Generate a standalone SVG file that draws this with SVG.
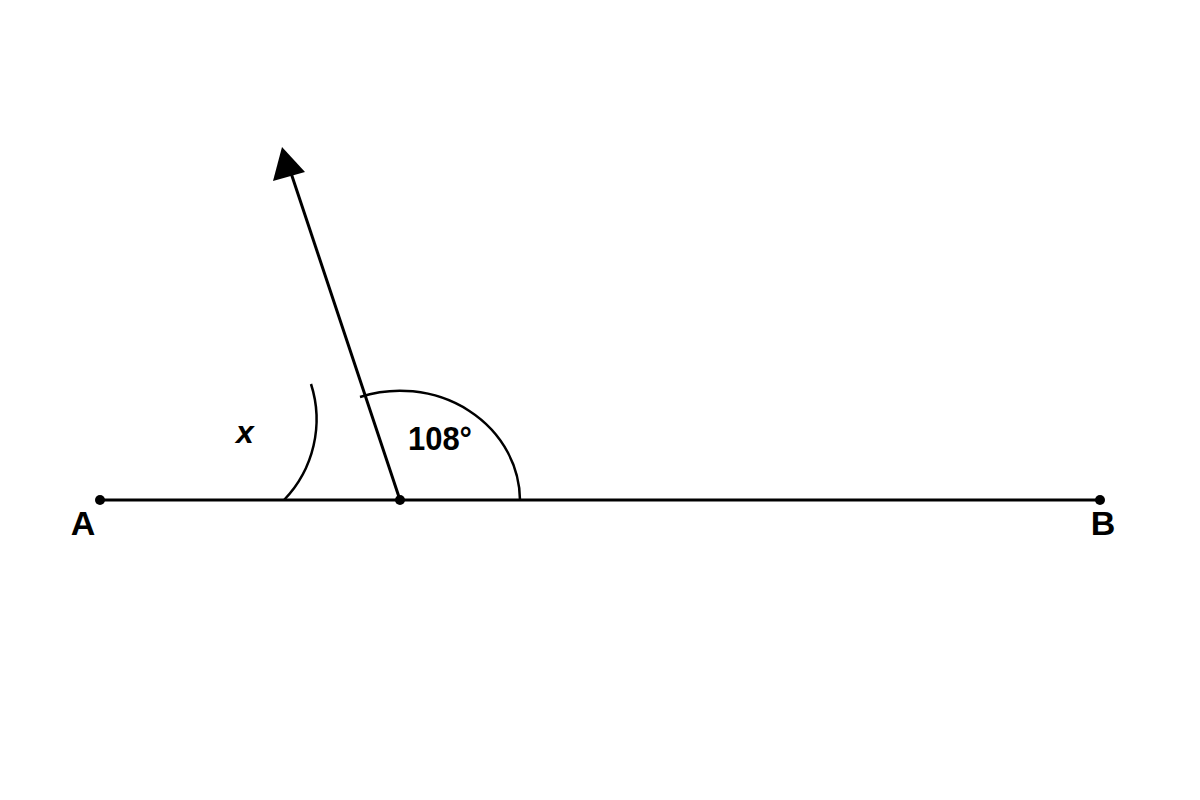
<svg xmlns="http://www.w3.org/2000/svg" width="1200" height="800" viewBox="0 0 1200 800">
<style>
.ln{stroke:#000;stroke-width:3;fill:none}
.arc{stroke:#000;stroke-width:2.5;fill:none}
.lbl{font-family:"Liberation Sans",Arial,sans-serif;font-weight:bold;fill:#000;text-anchor:middle}
</style>
<rect width="1200" height="800" fill="#fff"/>
<g id="connectors">
<line class="ln" x1="100" y1="500" x2="1100" y2="500"/>
<line class="ln" x1="400" y1="500" x2="289" y2="167"/>
<polygon points="282,147 305,172 273,181" fill="#000"/>
</g>
<g id="angle-108">
<path class="arc" d="M520,500 A120,110 0 0 0 360,397"/>
<text class="lbl" x="440" y="450" font-size="33" textLength="64" lengthAdjust="spacingAndGlyphs">108°</text>
</g>
<g id="angle-x">
<path class="arc" d="M284,500 A116,116 0 0 0 311,384"/>
<text class="lbl" x="245" y="443" font-size="32" font-style="italic">x</text>
</g>
<g id="point-A">
<circle cx="100" cy="500" r="5" fill="#000"/>
<text class="lbl" x="83" y="535" font-size="34">A</text>
</g>
<g id="point-O">
<circle cx="400" cy="500" r="5" fill="#000"/>
</g>
<g id="point-B">
<circle cx="1100" cy="500" r="5" fill="#000"/>
<text class="lbl" x="1103" y="535" font-size="34">B</text>
</g>
</svg>
